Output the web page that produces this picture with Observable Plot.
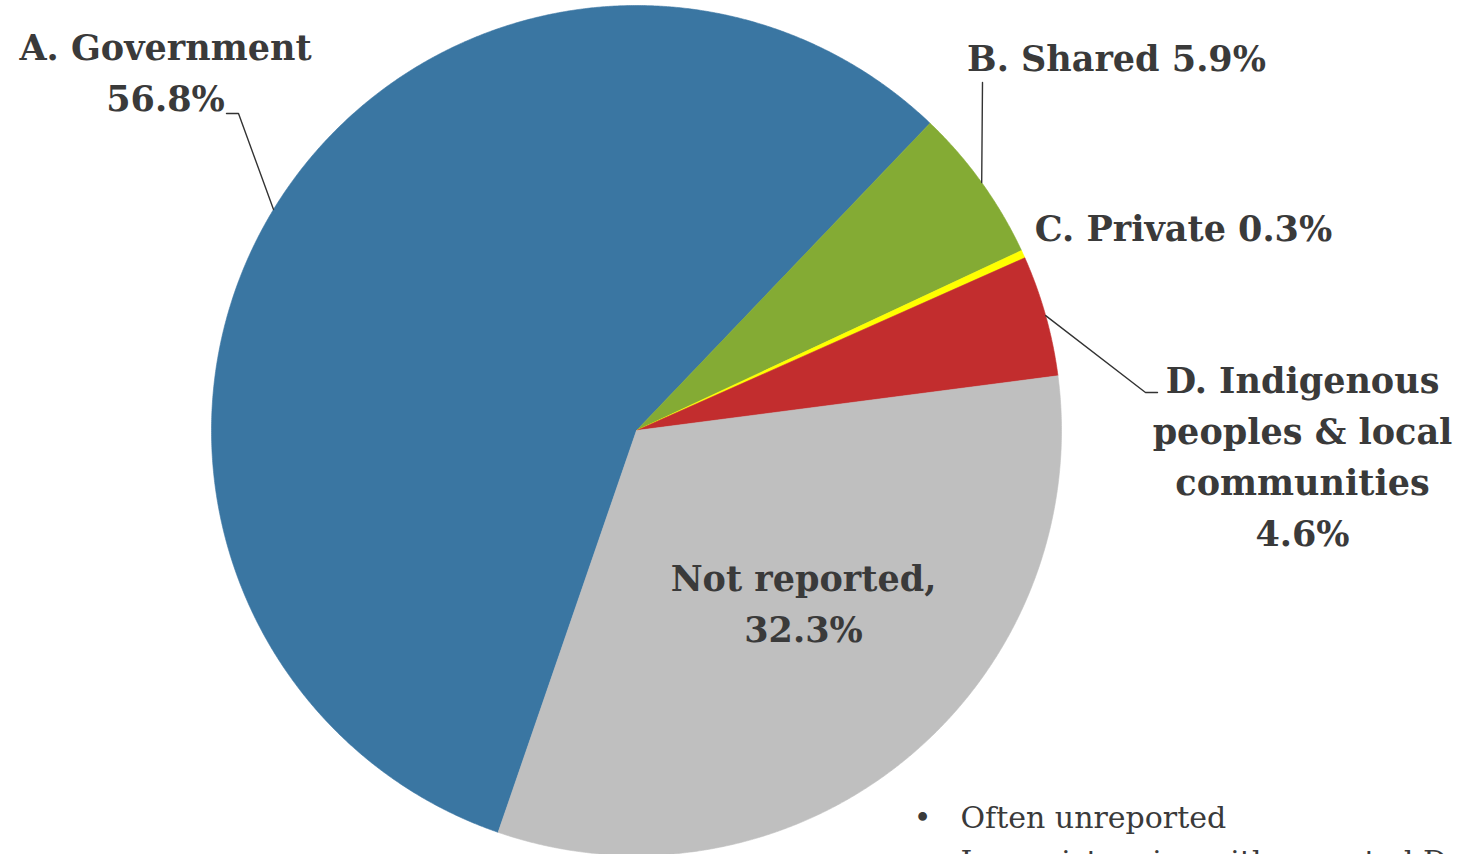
<!DOCTYPE html>
<html><head><meta charset="utf-8">
<script src="https://cdn.jsdelivr.net/npm/d3@7"></script>
<script src="https://cdn.jsdelivr.net/npm/@observablehq/plot@0.6"></script>
<style>
html,body{margin:0;padding:0;background:#fff;overflow:hidden;width:1458px;height:854px;}
#chart svg{overflow:visible;display:block;}
</style></head><body><div id="chart"></div>
<script>
// ---- data ----
const categories = ["A. Government", "B. Shared", "C. Private", "D. Indigenous peoples & local communities", "Not reported"];
const shares = [56.8, 5.9, 0.3, 4.6, 32.3];
const sliceColors = ["#3a76a2", "#84ab34", "#ffff00", "#c22d2e", "#bfbfbf"];
const labelNames = [["A. Government"], ["B. Shared"], ["C. Private"], ["D. Indigenous", "peoples & local", "communities"], ["Not reported,"]];
const notes = ["Often unreported", "Inconsistencies with reported Data"];

// ---- layout (pixels) ----
const W = 1458, H = 854, CX = 636, CY = 430, R = 425, FIRST_ANGLE = 199;
const labelLayout = [
  {x: 165, y: 59, inline: false, leader: [[238, 113], [226, 113]]},
  {x: 1116, y: 70, inline: true, leader: [[982, 82]]},
  {x: 1183, y: 240, inline: true, leader: null},
  {x: 1302, y: 392, inline: false, leader: [[1145, 392], [1157, 392]]},
  {x: 803, y: 590, inline: false, leader: null}
];
const LINE = 51;
const fx = px => (px - CX) / R, fy = py => (CY - py) / R;
const rad = d => d * Math.PI / 180;

const data = categories.map((c, i) => ({category: c, share: shares[i]}));
const arcs = d3.pie().sort(null).value(d => d.share)
  .startAngle(rad(FIRST_ANGLE)).endAngle(rad(FIRST_ANGLE + 360))(data);

const slicePoints = arcs.flatMap(a => {
  const n = Math.max(2, Math.ceil((a.endAngle - a.startAngle) / rad(0.25)));
  const pts = [{key: a.data.category, x: 0, y: 0}];
  for (let k = 0; k <= n; k++) {
    const t = a.startAngle + (a.endAngle - a.startAngle) * k / n;
    pts.push({key: a.data.category, x: Math.sin(t), y: Math.cos(t)});
  }
  pts.push({key: a.data.category, x: 0, y: 0});
  return pts;
});

const leaderPoints = arcs.flatMap((a, i) => {
  const L = labelLayout[i];
  if (!L.leader) return [];
  const m = (a.startAngle + a.endAngle) / 2;
  return [{key: i, x: Math.sin(m), y: Math.cos(m)}, ...L.leader.map(([px, py]) => ({key: i, x: fx(px), y: fy(py)}))];
});

const labelRows = arcs.flatMap((a, i) => {
  const L = labelLayout[i];
  const pct = `${a.data.share.toFixed(1)}%`;
  const lines = labelNames[i].slice();
  if (L.inline) lines[lines.length - 1] += " " + pct; else lines.push(pct);
  return lines.map((t, j) => ({text: t, x: fx(L.x), y: fy(L.y + j * LINE)}));
});

const noteRows = notes.map((t, i) => ({text: t, x: fx(960), bx: fx(922), y: fy(827 + i * 44), bullet: i === 0}));

const chart = Plot.plot({
  width: W, height: H, margin: 0,
  x: {domain: [fx(0), fx(W)], axis: null},
  y: {domain: [fy(H), fy(0)], axis: null},
  color: {type: "ordinal", domain: categories, range: sliceColors},
  style: {background: "#fff", overflow: "visible"},
  marks: [
    Plot.line(slicePoints, {x: "x", y: "y", z: "key", fill: "key", stroke: "key", strokeWidth: 0.6, curve: "linear"}),
    Plot.line(leaderPoints, {x: "x", y: "y", z: "key", stroke: "#333", strokeWidth: 1.4}),
    Plot.text(labelRows, {x: "x", y: "y", text: "text", textAnchor: "middle", lineAnchor: "bottom",
      fontSize: 35, fontWeight: "bold", fontFamily: "DejaVu Serif", fill: "#3a3a3a"}),
    Plot.text(noteRows.filter(d => d.bullet), {x: "bx", y: "y", text: () => "•", textAnchor: "middle", lineAnchor: "bottom",
      fontSize: 30, fontFamily: "DejaVu Serif", fill: "#3a3a3a"}),
    Plot.text(noteRows, {x: "x", y: "y", text: "text", textAnchor: "start", lineAnchor: "bottom",
      fontSize: 30, fontFamily: "DejaVu Serif", fill: "#3a3a3a"})
  ]
});
document.getElementById("chart").append(chart);
</script></body></html>
